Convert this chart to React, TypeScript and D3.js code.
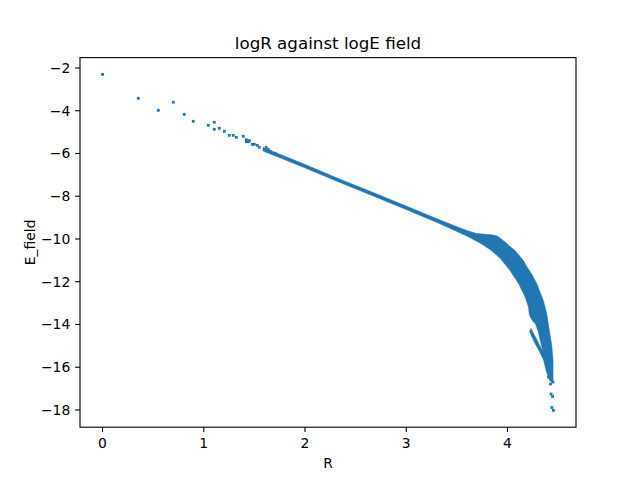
import React from "react";
import * as d3 from "d3";

// Isolated scatter points (R, E_field)
const pointR = [0.0, 0.353, 0.551, 0.699, 0.807, 0.896, 1.045, 1.104, 1.104, 1.153, 1.203, 1.252, 1.291, 1.321, 1.39, 1.42, 1.42, 1.44, 1.45, 1.479, 1.499, 1.529, 1.548, 1.598, 1.617, 1.637, 1.657, 1.687, 1.706, 4.405, 4.43, 4.449, 4.425, 4.43, 4.445, 4.438, 4.454];
const pointE = [-2.3, -3.418, -3.979, -3.605, -4.166, -4.494, -4.681, -4.54, -4.868, -4.821, -4.962, -5.149, -5.149, -5.242, -5.195, -5.354, -5.448, -5.448, -5.401, -5.57, -5.57, -5.617, -5.71, -5.804, -5.71, -5.804, -5.897, -5.991, -5.991, -16.457, -16.574, -16.691, -16.784, -17.252, -17.369, -17.884, -18.02];

// Outline of the dense band of points (traced around)
const bandR = [1.585, 1.99, 2.346, 2.674, 3.004, 3.333, 3.597, 3.696, 3.844, 3.893, 3.926, 3.992, 4.025, 4.074, 4.124, 4.156, 4.19, 4.239, 4.289, 4.321, 4.354, 4.387, 4.413, 4.437, 4.45, 4.45, 4.45, 4.445, 4.415, 4.385, 4.356, 4.341, 4.304, 4.277, 4.252, 4.227, 4.215, 4.206, 4.173, 4.107, 4.025, 3.926, 3.827, 3.728, 3.597, 3.333, 3.004, 2.674, 2.346, 1.99, 1.585];
const bandE = [-5.72, -6.491, -7.203, -7.825, -8.466, -9.111, -9.603, -9.743, -9.804, -9.851, -9.954, -10.202, -10.351, -10.538, -10.819, -11.006, -11.287, -11.638, -12.082, -12.48, -12.878, -13.477, -14.258, -14.96, -15.662, -16.223, -16.597, -16.738, -16.597, -16.223, -15.662, -15.1, -14.352, -13.977, -13.86, -13.673, -13.509, -13.168, -12.7, -12.073, -11.474, -10.889, -10.492, -10.188, -9.86, -9.289, -8.634, -7.989, -7.362, -6.655, -5.883];

// Separate thin branch under the main band
const sliverR = [4.232, 4.292, 4.336, 4.371, 4.356, 4.316, 4.267, 4.218];
const sliverE = [-14.188, -14.726, -15.147, -15.545, -15.662, -15.264, -14.843, -14.328];

const xTicks = [0, 1, 2, 3, 4];
const yTicks = [-2, -4, -6, -8, -10, -12, -14, -16, -18];

const title = "logR against logE field";
const xLabel = "R";
const yLabel = "E_field";

const W = 640, H = 480;
const L = 80, R = 576, T = 57.6, B = 427.2;
const BLUE = "#1f77b4";
const FONT = "DejaVu Sans, sans-serif";

export default function App() {
  const allR = pointR.concat(bandR, sliverR);
  const allE = pointE.concat(bandE, sliverE);
  const [x0, x1] = d3.extent(allR) as [number, number];
  const [y0, y1] = d3.extent(allE) as [number, number];
  const dx = (x1 - x0) * 0.05, dy = (y1 - y0) * 0.05;
  const x = d3.scaleLinear().domain([x0 - dx, x1 + dx]).range([L, R]);
  const y = d3.scaleLinear().domain([y0 - dy, y1 + dy]).range([B, T]);
  const fmt = (v: number) => d3.format("d")(v);

  const band = d3.line<number>().x((_, i) => x(bandR[i])).y((_, i) => y(bandE[i])).curve(d3.curveLinearClosed);
  const sliver = d3.line<number>().x((_, i) => x(sliverR[i])).y((_, i) => y(sliverE[i])).curve(d3.curveLinearClosed);

  return (
    <svg width={W} height={H} style={{ position: "absolute", left: 0, top: 0, background: "#fff" }} fontFamily={FONT}>
      <rect x={0} y={0} width={W} height={H} fill="#fff" />
      <path d={band(bandR) || ""} fill={BLUE} stroke={BLUE} strokeWidth={0.5} />
      <path d={sliver(sliverR) || ""} fill={BLUE} stroke={BLUE} strokeWidth={0.5} />
      {pointR.map((r, i) => (
        <rect key={i} x={x(r) - 1.4} y={y(pointE[i]) - 1.4} width={2.8} height={2.8} fill={BLUE} />
      ))}
      <rect x={L} y={T} width={R - L} height={B - T} fill="none" stroke="#000" strokeWidth={1.1} />
      {xTicks.map((t) => (
        <g key={t} transform={`translate(${x(t)},${B})`}>
          <line y2={4.9} stroke="#000" strokeWidth={1.1} />
          <text y={9.7} dy="0.78em" textAnchor="middle" fontSize={13.9} fill="#000">{fmt(t)}</text>
        </g>
      ))}
      {yTicks.map((t) => (
        <g key={t} transform={`translate(${L},${y(t)})`}>
          <line x2={-4.9} stroke="#000" strokeWidth={1.1} />
          <text x={-9.7} dy="0.35em" textAnchor="end" fontSize={13.9} fill="#000">{fmt(t)}</text>
        </g>
      ))}
      <text x={(L + R) / 2} y={49.3} textAnchor="middle" fontSize={16.7} fill="#000">{title}</text>
      <text x={(L + R) / 2} y={468} textAnchor="middle" fontSize={13.9} fill="#000">{xLabel}</text>
      <text transform={`translate(35,${(T + B) / 2}) rotate(-90)`} textAnchor="middle" fontSize={13.9} fill="#000">{yLabel}</text>
    </svg>
  );
}
